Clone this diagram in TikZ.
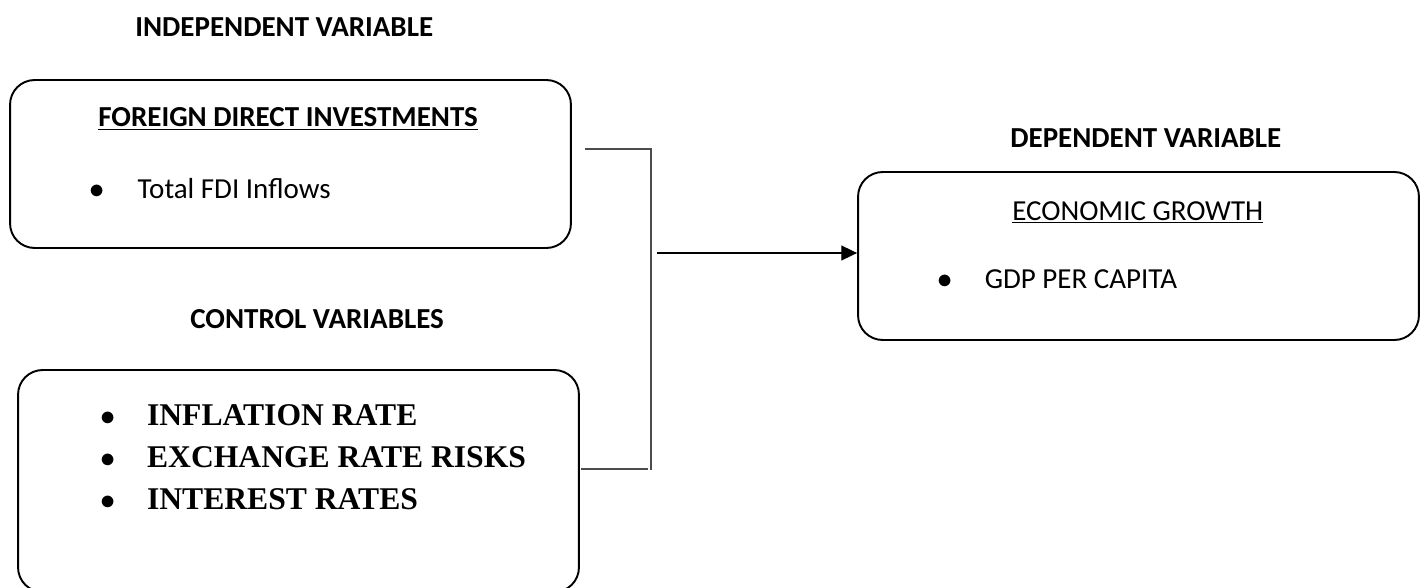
\documentclass[tikz,border=0pt]{standalone}
\usepackage{fontspec}
\setmainfont{Carlito}
\newfontfamily\timesf{Liberation Serif}
\usetikzlibrary{arrows.meta}

\tikzset{
  varbox/.style={draw,line width=1.1pt,rounded corners=14pt,minimum width=11.22cm,inner sep=0pt},
  hdr/.style={anchor=base west,inner sep=0pt,font=\fontsize{16.5}{20}\selectfont\bfseries},
  txt/.style={anchor=base west,inner sep=0pt,font=\fontsize{16.5}{20}\selectfont},
  ctl/.style={anchor=base west,inner sep=0pt,font=\timesf\fontsize{18}{22}\selectfont\bfseries},
  brk/.style={line width=0.75pt,black!70}
}
\newcommand{\itm}[2]{\makebox[#1][l]{$\bullet$}#2}

\begin{document}
\begin{tikzpicture}[x=0.02cm,y=-0.02cm]
  %rammen
  	\useasboundingbox (0,0) rectangle (1424,588);

  %kasser
  	\node[varbox,minimum height=3.36cm] (fdi) at (290.5,164) {};
  	\node[varbox,minimum height=3.36cm] (econ) at (1138.5,256) {};
  	\node[varbox,minimum height=4.44cm] (ctrl) at (298.5,481) {};

  %overskrifter
  	\node[hdr] (indep) at (135,37) {INDEPENDENT VARIABLE};
  	\node[hdr] (dep) at (1010,148) {DEPENDENT VARIABLE};
  	\node[hdr] (contr) at (190,328) {CONTROL VARIABLES};

  %tekst i kasserne
  	\node[hdr] (fdititle) at (98,127) {\underline{FOREIGN DIRECT INVESTMENTS}};
  	\node[txt] (fdiitem) at (89,198) {\itm{27.5pt}{Total FDI Inflows}};
  	\node[txt] (econtitle) at (1012,220) {\underline{ECONOMIC GROWTH}};
  	\node[txt] (econitem) at (937,288) {\itm{27pt}{GDP PER CAPITA}};
  	\node[ctl] (inflation) at (100,425) {\itm{26.6pt}{INFLATION RATE}};
  	\node[ctl] (exchange) at (100,467) {\itm{26.6pt}{EXCHANGE RATE RISKS}};
  	\node[ctl] (interest) at (100,509) {\itm{26.6pt}{INTEREST RATES}};

  %klammen
  	\coordinate (btop) at (585,149);
  	\coordinate (bcorner) at (651,149);
  	\coordinate (bend) at (651,470);
  	\coordinate (blow) at (581,469);
  	\coordinate (blowend) at (648,469);
  	\draw[brk] (btop) -- (bcorner) -- (bend);
  	\draw[brk] (blow) -- (blowend);

  %pilen
  	\coordinate (join) at (657,253);
  	\draw[line width=0.75pt,-{Triangle[length=9pt,width=8.5pt]}] (join) -- (join -| econ.west);
\end{tikzpicture}
\end{document}
